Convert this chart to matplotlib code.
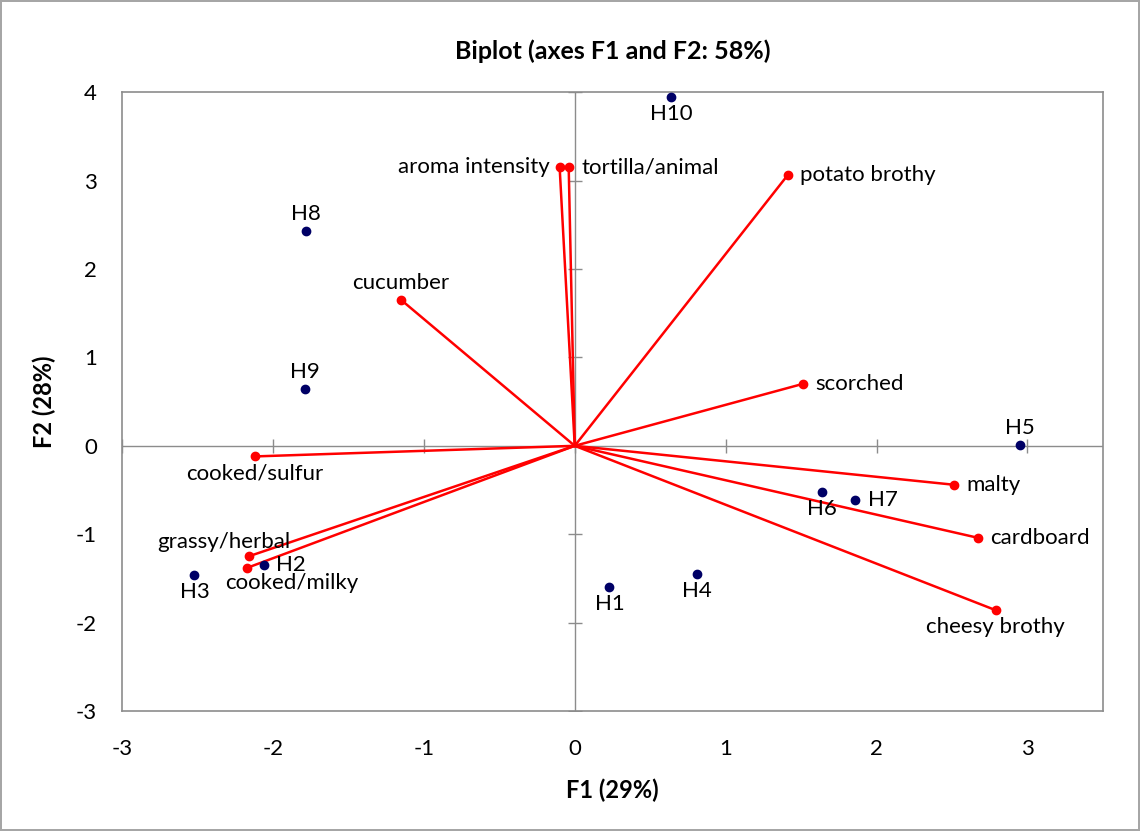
import matplotlib.pyplot as plt
import numpy as np

plt.rcParams['font.family'] = ['Lato', 'DejaVu Sans']
plt.rcParams['axes.unicode_minus'] = False

# observations (factor scores)
obs_names = ['H1', 'H2', 'H3', 'H4', 'H5', 'H6', 'H7', 'H8', 'H9', 'H10']
obs_f1 = [0.23, -2.06, -2.52, 0.81, 2.95, 1.64, 1.86, -1.78, -1.79, 0.64]
obs_f2 = [-1.60, -1.35, -1.46, -1.45, 0.01, -0.52, -0.61, 2.43, 0.64, 3.95]
obs_pos = ['below', 'right', 'below', 'below', 'above', 'below', 'right', 'above', 'above', 'below']

# variables (loadings)
var_names = ['aroma intensity', 'tortilla/animal', 'potato brothy', 'cucumber', 'scorched',
             'malty', 'cardboard', 'cheesy brothy', 'cooked/sulfur', 'grassy/herbal', 'cooked/milky']
var_f1 = [-0.10, -0.04, 1.41, -1.15, 1.51, 2.51, 2.67, 2.79, -2.12, -2.16, -2.17]
var_f2 = [3.15, 3.15, 3.06, 1.65, 0.70, -0.44, -1.04, -1.86, -0.12, -1.25, -1.38]
var_pos = ['left', 'right', 'right', 'above', 'right', 'right', 'right', 'below', 'below',
           'above_left', 'below_right']

offsets = {'left': ((-7, 0), 'right', 'center'),
           'right': ((9, 0), 'left', 'center'),
           'above': ((0, 5), 'center', 'bottom'),
           'below': ((0, -5), 'center', 'top'),
           'above_left': ((-18, 3), 'center', 'bottom'),
           'below_right': ((-16, -4), 'left', 'top')}

fig = plt.figure(figsize=(11.4, 8.31), dpi=100)
fig.patch.set_edgecolor('#a6a6a6')
fig.patch.set_linewidth(1.5)
ax = fig.add_axes([0.107, 0.1444, 0.8605, 0.7446])

ax.set_xlim(-3, 3.5)
ax.set_ylim(-3, 4)
ax.set_xticks(np.arange(-3, 4))
ax.set_yticks(np.arange(-3, 5))
ax.tick_params(length=0, labelsize=16)
ax.tick_params(axis='x', pad=20)
ax.tick_params(axis='y', pad=18)
for s in ax.spines.values():
    s.set_color('#8c8c8c')
    s.set_linewidth(1.2)

# zero axes with cross tick marks
ax.axhline(0, color='#8c8c8c', lw=1, zorder=1)
ax.axvline(0, color='#8c8c8c', lw=1, zorder=1)
xt = np.arange(-3, 4)
yt = np.arange(-3, 5)
ax.plot(xt, np.zeros_like(xt), ls='none', marker='|', ms=10, mew=1, color='#8c8c8c', zorder=1)
ax.plot(np.zeros_like(yt), yt, ls='none', marker='_', ms=10, mew=1, color='#8c8c8c', zorder=1)

for x, y, name, pos in zip(var_f1, var_f2, var_names, var_pos):
    ax.plot([0, x], [0, y], color='red', lw=1.8, zorder=2)
    ax.plot(x, y, 'o', color='red', ms=6, zorder=3)
    off, ha, va = offsets[pos]
    ax.annotate(name, (x, y), xytext=off, textcoords='offset points',
                ha=ha, va=va, fontsize=16)

ax.plot(obs_f1, obs_f2, 'o', color='#000066', ms=6, ls='none', zorder=3)
for x, y, name, pos in zip(obs_f1, obs_f2, obs_names, obs_pos):
    off, ha, va = offsets[pos]
    ax.annotate(name, (x, y), xytext=off, textcoords='offset points',
                ha=ha, va=va, fontsize=16)

ax.set_title('Biplot (axes F1 and F2: 58%)', fontsize=18, fontweight='bold', pad=24)
ax.set_xlabel('F1 (29%)', fontsize=17, fontweight='bold', labelpad=14)
ax.set_ylabel('F2 (28%)', fontsize=17, fontweight='bold', labelpad=14)

fig.savefig('out.png', dpi=100, edgecolor=fig.get_edgecolor())
